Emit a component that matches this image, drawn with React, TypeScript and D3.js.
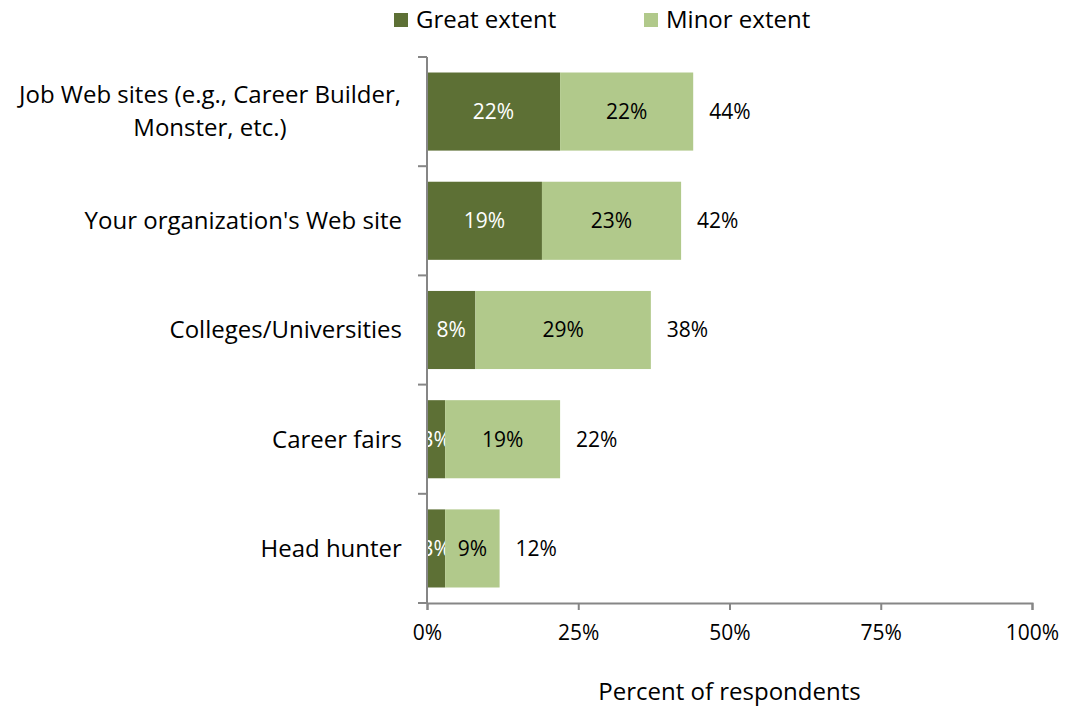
import React, { useRef, useEffect } from "react";
import * as d3 from "d3";

const categories = [
  "Job Web sites (e.g., Career Builder,|Monster, etc.)",
  "Your organization's Web site",
  "Colleges/Universities",
  "Career fairs",
  "Head hunter",
];
const greatExtent = [22, 19, 8, 3, 3];
const minorExtent = [22, 23, 29, 19, 9];
const totalLabels = ["44%", "42%", "38%", "22%", "12%"];
const xTicks = [0, 25, 50, 75, 100];
const seriesNames = ["Great extent", "Minor extent"];

const App: React.FC = () => {
  const chartRef = useRef<SVGSVGElement | null>(null);

  useEffect(() => {
    if (!chartRef.current) return;
    d3.select(chartRef.current).selectAll("*").remove();

    const width = 1065;
    const height = 711;
    const margin = { top: 57, right: 33, bottom: 108, left: 427 };
    const font = "'Open Sans', sans-serif";
    const colors = ["#5d7035", "#b1c98b"];
    const axisColor = "#868686";

    const svg = d3
      .select(chartRef.current)
      .attr("width", width)
      .attr("height", height)
      .style("font-family", font);

    const x = d3
      .scaleLinear()
      .domain([0, 100])
      .range([margin.left, width - margin.right]);

    const y = d3
      .scaleBand()
      .domain(categories)
      .range([margin.top, height - margin.bottom])
      .paddingInner(0.285)
      .paddingOuter(0.142);

    const rows = categories.map((c, i) => ({
      cat: c,
      vals: [greatExtent[i], minorExtent[i]],
      total: totalLabels[i],
    }));

    // stacked bars + labels
    const g = svg.append("g");
    rows.forEach((r) => {
      let start = 0;
      r.vals.forEach((v, k) => {
        g.append("rect")
          .attr("x", x(start))
          .attr("y", y(r.cat)!)
          .attr("width", x(start + v) - x(start))
          .attr("height", y.bandwidth())
          .attr("fill", colors[k]);
        g.append("text")
          .attr("x", (x(start) + x(start + v)) / 2)
          .attr("y", y(r.cat)! + y.bandwidth() / 2)
          .attr("dy", "0.35em")
          .attr("text-anchor", "middle")
          .attr("fill", k === 0 ? "#ffffff" : "#000000")
          .style("font-size", "21px")
          .text(`${v}%`);
        start += v;
      });
      g.append("text")
        .attr("x", x(start) + 16)
        .attr("y", y(r.cat)! + y.bandwidth() / 2)
        .attr("dy", "0.35em")
        .attr("fill", "#000")
        .style("font-size", "21px")
        .text(r.total);
    });

    // y axis
    const yAxisG = svg.append("g");
    yAxisG
      .append("line")
      .attr("x1", x(0))
      .attr("x2", x(0))
      .attr("y1", margin.top)
      .attr("y2", height - margin.bottom)
      .attr("stroke", axisColor)
      .attr("stroke-width", 2);
    const bandH = (height - margin.bottom - margin.top) / categories.length;
    const boundaries = d3.range(categories.length + 1).map((i) => margin.top + i * bandH);
    yAxisG
      .selectAll("line.tick")
      .data(boundaries)
      .join("line")
      .attr("class", "tick")
      .attr("x1", x(0) - 9)
      .attr("x2", x(0))
      .attr("y1", (d) => d)
      .attr("y2", (d) => d)
      .attr("stroke", axisColor)
      .attr("stroke-width", 2);

    // category labels (wrapped lines centred on each other, right edge at axis)
    rows.forEach((r) => {
      const lines = r.cat.split("|");
      const cy = y(r.cat)! + y.bandwidth() / 2;
      const lh = 33;
      const t = svg
        .append("text")
        .attr("fill", "#000")
        .style("font-size", "24px");
      lines.forEach((ln, i) => {
        t.append("tspan")
          .attr("x", 0)
          .attr("y", cy + (i - (lines.length - 1) / 2) * lh)
          .attr("dy", "0.35em")
          .attr("text-anchor", "middle")
          .text(ln);
      });
      const w = (t.node() as SVGTextElement).getBBox().width;
      t.selectAll("tspan").attr("x", x(0) - 25 - w / 2);
    });

    // x axis
    const xAxis = svg
      .append("g")
      .attr("transform", `translate(0,${height - margin.bottom})`)
      .call(
        d3
          .axisBottom(x)
          .tickValues(xTicks)
          .tickSize(7)
          .tickPadding(15)
          .tickFormat((d) => `${d}%`)
      );
    xAxis.select(".domain").attr("stroke", axisColor).attr("stroke-width", 2);
    xAxis.selectAll(".tick line").attr("stroke", axisColor).attr("stroke-width", 2);
    xAxis
      .selectAll(".tick text")
      .attr("fill", "#000")
      .style("font-size", "21px")
      .style("font-family", font);

    svg
      .append("text")
      .attr("x", (x(0) + x(100)) / 2)
      .attr("y", 700)
      .attr("text-anchor", "middle")
      .attr("fill", "#000")
      .style("font-size", "24px")
      .text("Percent of respondents");

    // legend
    const legendX = [394, 644];
    seriesNames.forEach((s, i) => {
      svg
        .append("rect")
        .attr("x", legendX[i])
        .attr("y", 13)
        .attr("width", 14)
        .attr("height", 14)
        .attr("fill", colors[i]);
      svg
        .append("text")
        .attr("x", legendX[i] + 22)
        .attr("y", 28)
        .attr("fill", "#000")
        .style("font-size", "24px")
        .text(s);
    });
  }, []);

  return (
    <svg
      ref={chartRef}
      style={{ position: "absolute", left: 0, top: 0, display: "block" }}
    ></svg>
  );
};

export default App;
